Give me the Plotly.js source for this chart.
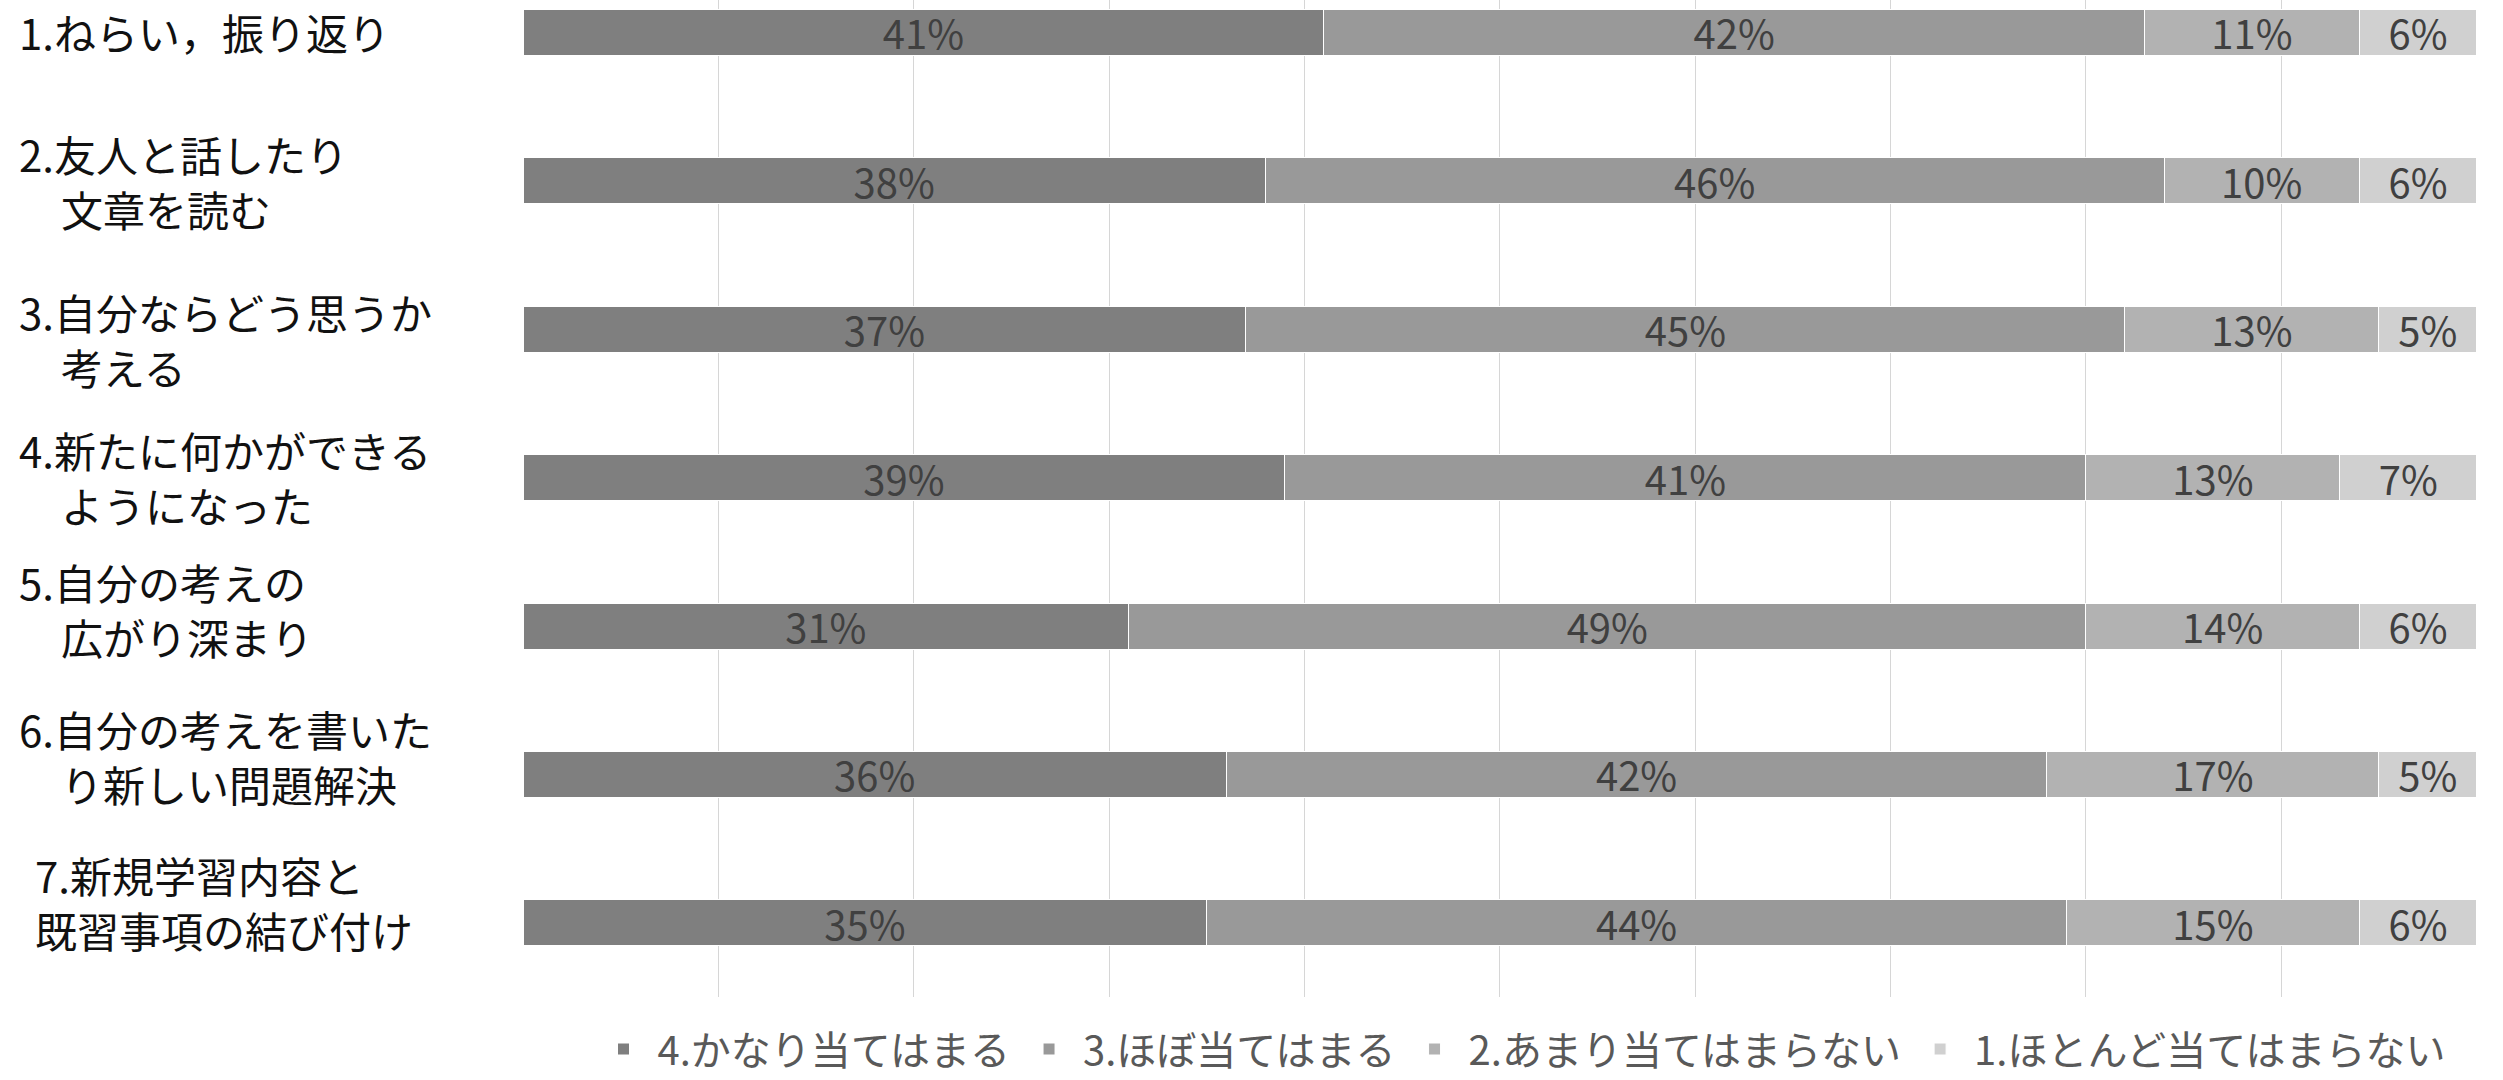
<!DOCTYPE html>
<html>
<head>
<meta charset="utf-8">
<script src="https://cdn.plot.ly/plotly-3.0.1.min.js"></script>
<style>html,body{margin:0;padding:0;background:#fff;}#chart{width:2503px;height:1080px;}</style>
</head>
<body>
<div id="chart"></div>
<script>
// ---- data ----
var categories = [
  "1.ねらい，振り返り",
  "2.友人と話したり<br>　文章を読む",
  "3.自分ならどう思うか<br>　考える",
  "4.新たに何かができる<br>　ようになった",
  "5.自分の考えの<br>　広がり深まり",
  "6.自分の考えを書いた<br>　り新しい問題解決",
  "7.新規学習内容と<br>既習事項の結び付け"
];
var seriesNames = ["4.かなり当てはまる", "3.ほぼ当てはまる", "2.あまり当てはまらない", "1.ほとんど当てはまらない"];
var s4 = [41, 38, 37, 39, 31, 36, 35];
var s3 = [42, 46, 45, 41, 49, 42, 44];
var s2 = [11, 10, 13, 13, 14, 17, 15];
var s1 = [6, 6, 5, 7, 6, 5, 6];

// ---- style / layout ----
var colors = ["#7f7f7f", "#999999", "#b2b2b2", "#d0d0d0"];
var W = 2503, H = 1080;
var plotL = 523, plotR = 2477, plotT = 0, plotB = 997;
var unit = 148.4;
var jp = "Noto Sans CJK JP, Noto Sans, sans-serif";

var allSeries = [s4, s3, s2, s1];
var traces = allSeries.map(function (vals, i) {
  return {
    type: "bar",
    orientation: "h",
    name: seriesNames[i],
    y: categories,
    x: vals,
    marker: { color: colors[i], line: { color: "#ffffff", width: 1 } },
    texttemplate: "%{x}%",
    textposition: "inside",
    insidetextanchor: "middle",
    constraintext: "none",
    textangle: 0,
    textfont: { family: jp, size: 40, color: "#404040" },
    hoverinfo: "skip"
  };
});

// category label placement (layout, pixels from top / left of the page)
var labelY = [32, 181, 339, 477, 609, 756, 902];
var labelX = [17, 17, 17, 17, 17, 17, 33];
var plotW = plotR - plotL, plotH = plotB - plotT;
var annotations = categories.map(function (c, i) {
  return {
    xref: "paper", yref: "paper",
    x: (labelX[i] - plotL) / plotW,
    y: 1 - (labelY[i] - plotT) / plotH,
    xanchor: "left", yanchor: "middle",
    text: c, showarrow: false, align: "left",
    font: { family: jp, size: 42, color: "#111111" }
  };
});

var layout = {
  width: W, height: H,
  margin: { l: plotL, r: W - plotR, t: plotT, b: H - plotB, pad: 0, autoexpand: false },
  paper_bgcolor: "#ffffff", plot_bgcolor: "#ffffff",
  barmode: "stack",
  bargap: 0.69,
  showlegend: true,
  legend: {
    orientation: "h", x: (1520 - plotL) / plotW, xanchor: "center",
    y: -(1049 - plotB) / plotH, yanchor: "middle",
    font: { family: jp, size: 40, color: "#595959" },
    traceorder: "normal", bgcolor: "rgba(0,0,0,0)", borderwidth: 0,
    itemwidth: 58
  },
  xaxis: {
    range: [0, 100.02], showticklabels: false, ticks: "",
    showgrid: true, gridcolor: "#d6d6d6", gridwidth: 1, dtick: 10, tick0: 0,
    zeroline: false, showline: false, fixedrange: true
  },
  yaxis: {
    type: "category", categoryorder: "array", categoryarray: categories,
    range: [6.5, 6.5 - plotH / unit],
    showticklabels: false, ticks: "", showgrid: false, zeroline: false, showline: false
  },
  annotations: annotations
};

Plotly.newPlot("chart", traces, layout, { displayModeBar: false, staticPlot: true });
</script>
</body>
</html>
